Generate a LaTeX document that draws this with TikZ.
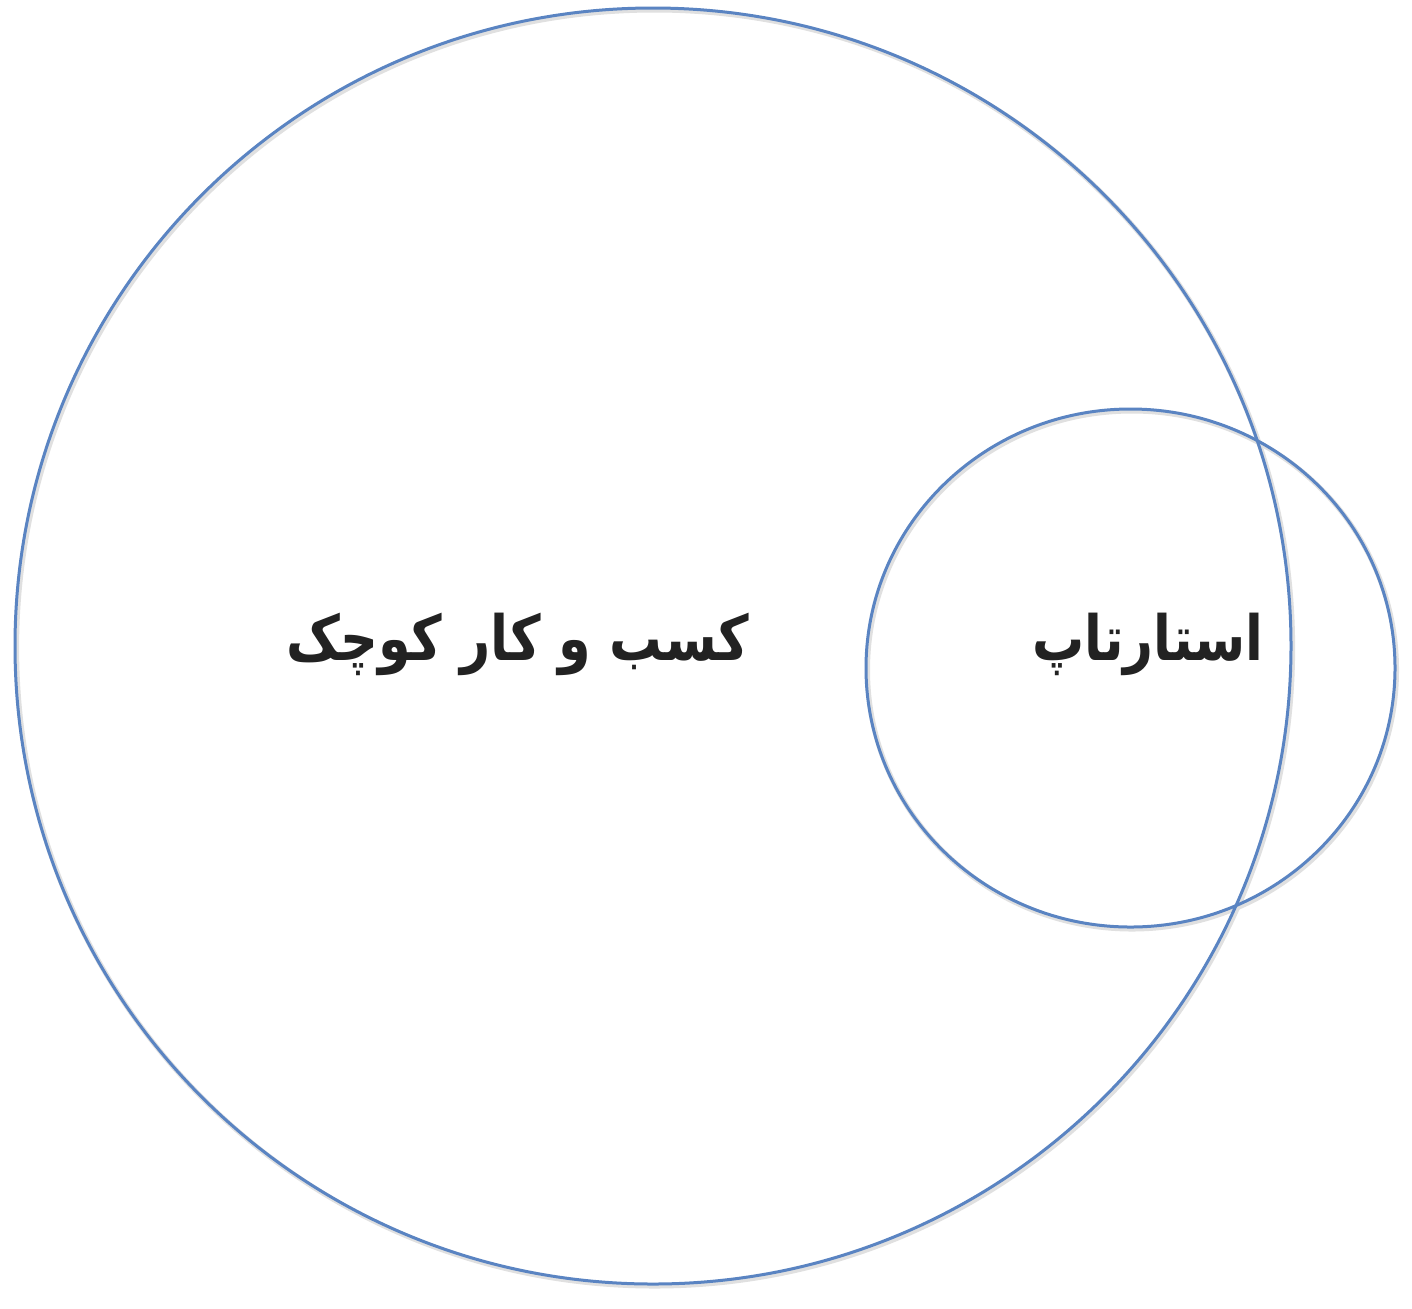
\documentclass[tikz,border=0pt]{standalone}
\usepackage{fontspec}
\usetikzlibrary{shapes.geometric}
\TeXXeTstate=1
\newfontfamily\arabicfont[Script=Arabic]{DejaVu Sans}
\definecolor{venn}{HTML}{5A84C2}
\definecolor{txt}{HTML}{222222}
\tikzset{
  setring/.style={ellipse, draw=venn, line width=1.5pt, inner sep=0pt},
  ringshadow/.style={ellipse, draw=black!12, line width=2.5pt, inner sep=0pt},
  setlabel/.style={text=txt, inner sep=0pt, font=\arabicfont\bfseries\fontsize{26}{30}\selectfont}
}
\begin{document}
\begin{tikzpicture}[x=1pt,y=1pt]
\useasboundingbox (0,0) rectangle (706,-654);
\fill[white] (0,0) rectangle (706,-654);
% shadows
\node[ringshadow, minimum width=638pt, minimum height=638pt] (bigs) at (327.3,-324) {};
\node[ringshadow, minimum width=264.5pt, minimum height=259pt] (smalls) at (566,-335) {};
% circles
\node[setring, minimum width=638pt, minimum height=638pt] (big) at (326.5,-323) {};
\node[setring, minimum width=264.5pt, minimum height=259pt] (small) at (565.25,-334) {};
% labels
\node[setlabel] (bigl) at (259,-322) {\scalebox{1.01}[1.2]{\beginR کسب و کار کوچک\endR}};
\node[setlabel] (smalll) at (574,-322) {\scalebox{1.0}[1.2]{\beginR استارتاپ\endR}};
\end{tikzpicture}
\end{document}
